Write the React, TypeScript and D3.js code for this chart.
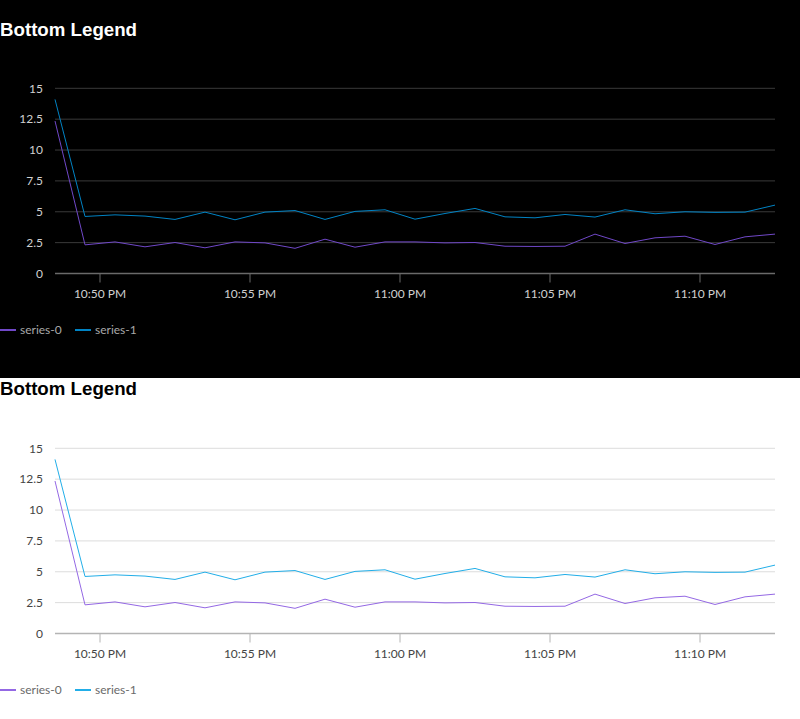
import * as d3 from 'd3'

// one reading per minute, starting 10:48:30 PM
const startTime = new Date(2024, 0, 1, 22, 48, 30)
const series0 = [
  12.35, 2.32, 2.56, 2.16, 2.51, 2.08, 2.56, 2.48, 2.04, 2.78, 2.13, 2.56, 2.56,
  2.48, 2.51, 2.21, 2.19, 2.21, 3.19, 2.43, 2.89, 3.02, 2.35, 2.97, 3.19,
]
const series1 = [
  14.1, 4.62, 4.75, 4.65, 4.38, 4.97, 4.35, 4.97, 5.1, 4.38, 5.03, 5.16, 4.4,
  4.86, 5.27, 4.59, 4.51, 4.78, 4.57, 5.16, 4.84, 5.0, 4.95, 4.97, 5.54,
]
const seriesNames = ['series-0', 'series-1']
const yTicks = [0, 2.5, 5, 7.5, 10, 12.5, 15]

const times = series0.map((_, i) => d3.timeMinute.offset(startTime, i))

interface Theme {
  background: string
  title: string
  grid: string
  axis: string
  label: string
  legend: string
  colors: string[]
}

const darkTheme: Theme = {
  background: '#000000',
  title: '#ffffff',
  grid: '#3a3a3a',
  axis: '#6a6a6a',
  label: '#d0d0d0',
  legend: '#a8a8a8',
  colors: ['#7048c8', '#0083c4'],
}

const lightTheme: Theme = {
  background: '#ffffff',
  title: '#000000',
  grid: '#dcdcdc',
  axis: '#b4b4b4',
  label: '#444444',
  legend: '#6a6a6a',
  colors: ['#9468e4', '#22aee8'],
}

const width = 800
const marginLeft = 55
const marginRight = 25
const labelFont = 'Lato, "Noto Sans", sans-serif'

function Panel({
  theme,
  top,
  bgTop,
  bgHeight,
  plotTop,
}: {
  theme: Theme
  top: number
  bgTop: number
  bgHeight: number
  plotTop: number
}) {
  const titleY = 36
  const x = d3.scaleTime([times[0], times[times.length - 1]], [marginLeft, width - marginRight])
  const y = d3.scaleLinear([0, 15], [plotTop + 185.2, plotTop])
  const line = d3
    .line<number>()
    .x((_, i) => x(times[i]))
    .y((v) => y(v))
  const xTicks = x.ticks(d3.timeMinute.every(5) as d3.TimeInterval)
  const fmt = d3.timeFormat('%-I:%M %p')
  const legendY = y(0) + 56.5

  return (
    <g transform={`translate(0,${top})`}>
      <rect x={0} y={bgTop} width={width} height={bgHeight} fill={theme.background} />
      <text
        x={0}
        y={titleY}
        fill={theme.title}
        fontFamily='"Liberation Sans", Arial, sans-serif'
        fontWeight="bold"
        fontSize={18.7}
      >
        Bottom Legend
      </text>
      <g>
        {yTicks.map((t) => (
          <g key={t}>
            {t !== 0 && (
              <line x1={marginLeft} x2={width - marginRight} y1={y(t)} y2={y(t)} stroke={theme.grid} strokeWidth={1} />
            )}
            <text
              x={43}
              y={y(t)}
              dy="0.35em"
              textAnchor="end"
              fill={theme.label}
              fontFamily={labelFont}
              fontSize={12}
            >
              {t}
            </text>
          </g>
        ))}
      </g>
      <line x1={marginLeft} x2={width - marginRight} y1={y(0)} y2={y(0)} stroke={theme.axis} strokeWidth={1.5} />
      <g>
        {xTicks.map((t) => (
          <g key={t.getTime()} transform={`translate(${x(t)},0)`}>
            <line y1={y(0)} y2={y(0) + 9} stroke={theme.axis} strokeWidth={1} />
            <text y={y(0) + 24} textAnchor="middle" fill={theme.label} fontFamily={labelFont} fontSize={12}>
              {fmt(t)}
            </text>
          </g>
        ))}
      </g>
      {[series0, series1].map((s, i) => (
        <path key={i} d={line(s) || undefined} fill="none" stroke={theme.colors[i]} strokeWidth={1} />
      ))}
      <g fontFamily={labelFont} fontSize={12}>
        {seriesNames.map((name, i) => (
          <g key={name} transform={`translate(${i * 75},${legendY})`}>
            <line x1={0} x2={16} y1={0} y2={0} stroke={theme.colors[i]} strokeWidth={2} />
            <text x={20} y={0} dy="0.35em" fill={theme.legend}>
              {name}
            </text>
          </g>
        ))}
      </g>
    </g>
  )
}

export default function App() {
  return (
    <div style={{ position: 'absolute', top: 0, left: 0 }}>
      <svg width={width} height={719} viewBox={`0 0 ${width} 719`} style={{ display: 'block' }}>
        <Panel theme={darkTheme} top={0} bgTop={0} bgHeight={378} plotTop={88.3} />
        <Panel theme={lightTheme} top={359} bgTop={19} bgHeight={341} plotTop={89.3} />
      </svg>
    </div>
  )
}
